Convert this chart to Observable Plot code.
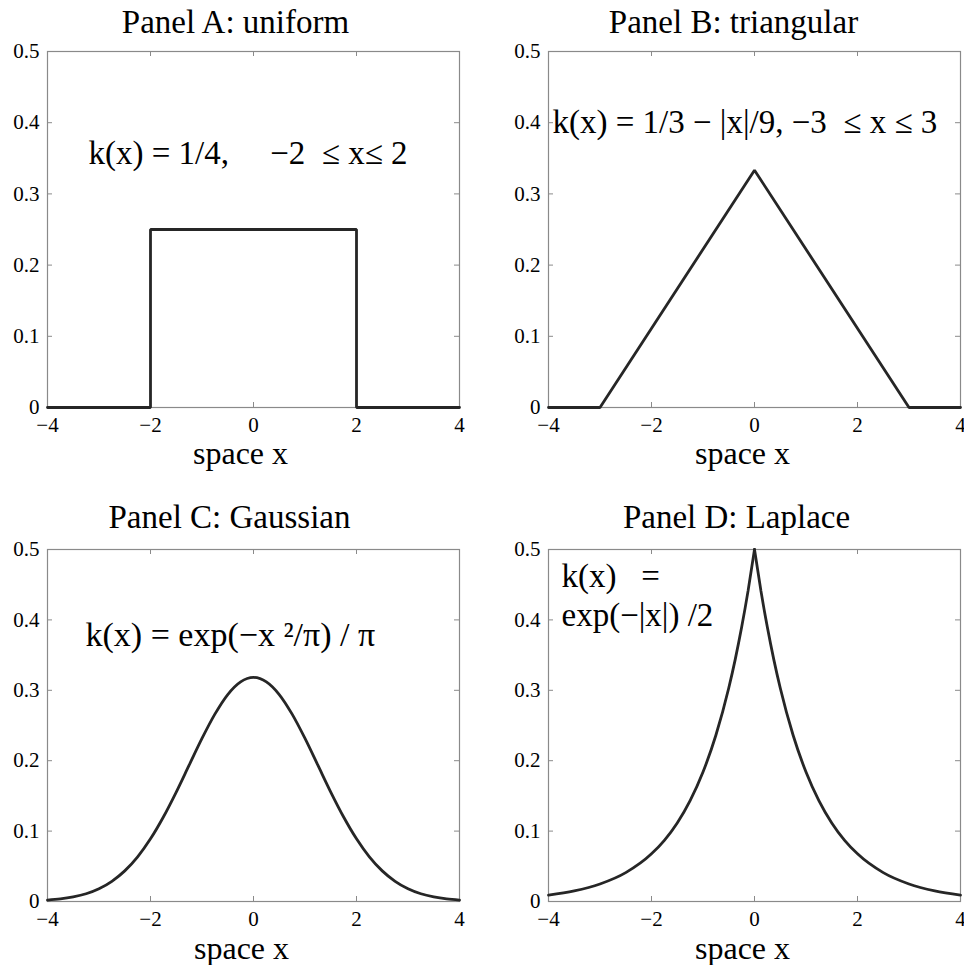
<!DOCTYPE html>
<html><head><meta charset="utf-8">
<script src="https://cdn.jsdelivr.net/npm/d3@7"></script>
<script src="https://cdn.jsdelivr.net/npm/@observablehq/plot@0.6"></script>
<style>
body{margin:0;background:#fff;}
#fig{position:relative;width:964px;height:965px;background:#fff;overflow:hidden;}
.panel{position:absolute;}
svg text{white-space:pre;}
</style></head><body><div id="fig"></div>
<script>
// ---- data ----
const xTicks = [-4, -2, 0, 2, 4];
const yTicks = [0, 0.1, 0.2, 0.3, 0.4, 0.5];
const titles = ["Panel A: uniform", "Panel B: triangular", "Panel C: Gaussian", "Panel D: Laplace"];
const xLabel = "space x";
const formulas = [
  "k(x) = 1/4,     \u22122  \u2264 x\u2264 2",
  "k(x) = 1/3 \u2212 |x|/9, \u22123  \u2264 x \u2264 3",
  "k(x) = exp(\u2212x \u00b2/\u03c0) / \u03c0",
  "k(x)   =\nexp(\u2212|x|) /2"
];
const uniformX = [-4, -2, -2, 2, 2, 4];
const uniformY = [0, 0, 0.25, 0.25, 0, 0];
const triX = [-4, -3, 0, 3, 4];
const triY = [0, 0, 0.3333, 0, 0];
const gaussX = [-4,-3.75,-3.5,-3.25,-3,-2.75,-2.5,-2.25,-2,-1.75,-1.5,-1.25,-1,-0.75,-0.5,-0.25,0,
                0.25,0.5,0.75,1,1.25,1.5,1.75,2,2.25,2.5,2.75,3,3.25,3.5,3.75,4];
const gaussY = [0.0020,0.0036,0.0065,0.0110,0.0181,0.0287,0.0435,0.0635,0.0891,0.1201,0.1555,0.1936,0.2316,0.2661,0.2940,0.3120,0.3183,
                0.3120,0.2940,0.2661,0.2316,0.1936,0.1555,0.1201,0.0891,0.0635,0.0435,0.0287,0.0181,0.0110,0.0065,0.0036,0.0020];
const lapX = [-4,-3.5,-3,-2.5,-2,-1.75,-1.5,-1.25,-1,-0.75,-0.5,-0.375,-0.25,-0.125,0,
              0.125,0.25,0.375,0.5,0.75,1,1.25,1.5,1.75,2,2.5,3,3.5,4];
const lapY = [0.0092,0.0151,0.0249,0.0410,0.0677,0.0869,0.1116,0.1433,0.1839,0.2362,0.3033,0.3436,0.3894,0.4412,0.5,
              0.4412,0.3894,0.3436,0.3033,0.2362,0.1839,0.1433,0.1116,0.0869,0.0677,0.0410,0.0249,0.0151,0.0092];

// ---- build tables ----
const rows = (xs, ys) => xs.map((x, i) => ({x, y: ys[i]}));
const lapRows = [
  ...lapX.map((x, i) => ({x, y: lapY[i], side: "L"})).filter(d => d.x <= 0),
  ...lapX.map((x, i) => ({x, y: lapY[i], side: "R"})).filter(d => d.x >= 0)
];
const series = [
  {data: rows(uniformX, uniformY), curve: "linear"},
  {data: rows(triX, triY), curve: "linear"},
  {data: rows(gaussX, gaussY), curve: "monotone-x"},
  {data: lapRows, curve: "monotone-x", z: "side"}
];

// ---- layout ----
const layout = [
  {left: 0,   top: 0,   w: 482, h: 480, mt: 51, mb: 73, ml: 47, mr: 23, tdx: -18, tdy: -19, ldx: -13, ldy: 56, fdx: 41, fdy: 112, ffs: 33},
  {left: 482, top: 0,   w: 482, h: 480, mt: 51, mb: 73, ml: 66, mr: 4,  tdx: -21, tdy: -19, ldx: -12, ldy: 56, fdx: 4,  fdy: 81,  ffs: 33},
  {left: 0,   top: 480, w: 482, h: 485, mt: 69, mb: 64, ml: 47, mr: 23, tdx: -24, tdy: -22, ldx: -12, ldy: 57, fdx: 38, fdy: 96,  ffs: 34},
  {left: 482, top: 480, w: 482, h: 485, mt: 69, mb: 64, ml: 66, mr: 4,  tdx: -18, tdy: -22, ldx: -12, ldy: 57, fdx: 13, fdy: 76,  ffs: 33}
];

const fig = document.getElementById("fig");
const font = "Liberation Serif, Times New Roman, serif";
const lineColor = "#262626";
const frameColor = "#8a8a8a";
const fmtX = d => (d < 0 ? "\u2212" + (-d) : String(d));
const fmtY = d => String(d);

layout.forEach((L, i) => {
  const boxH = L.h - L.mt - L.mb;
  const boxW = L.w - L.ml - L.mr;
  const s = series[i];
  const plot = Plot.plot({
    width: L.w, height: L.h,
    marginTop: L.mt, marginBottom: L.mb, marginLeft: L.ml, marginRight: L.mr,
    style: {fontFamily: font, fontSize: "21px", color: "#000", background: "transparent", overflow: "visible"},
    x: {domain: [-4, 4], axis: null},
    y: {domain: [0, 0.5], axis: null},
    marks: [
      Plot.ruleX(xTicks.slice(1, -1), {insetTop: boxH - 5, stroke: frameColor}),
      Plot.ruleX(xTicks.slice(1, -1), {insetBottom: boxH - 5, stroke: frameColor}),
      Plot.ruleY(yTicks.slice(1, -1), {insetRight: boxW - 5, stroke: frameColor}),
      Plot.ruleY(yTicks.slice(1, -1), {insetLeft: boxW - 5, stroke: frameColor}),
      Plot.frame({stroke: frameColor, strokeWidth: 1.2}),
      Plot.line(s.data, {x: "x", y: "y", z: s.z, curve: s.curve, stroke: lineColor, strokeWidth: 2.8, strokeLinejoin: "miter"}),
      Plot.text(xTicks, {x: d => d, text: fmtX, frameAnchor: "bottom", lineAnchor: "top", dy: 10, fontSize: 21, fontFamily: font, fill: "#000"}),
      Plot.text(yTicks, {y: d => d, text: fmtY, frameAnchor: "left", textAnchor: "end", dx: -8, fontSize: 21, fontFamily: font, fill: "#000"}),
      Plot.text([titles[i]], {frameAnchor: "top", lineAnchor: "bottom", dx: L.tdx, dy: L.tdy, fontSize: 33, fontFamily: font, fill: "#000"}),
      Plot.text([xLabel], {frameAnchor: "bottom", lineAnchor: "bottom", dx: L.ldx, dy: L.ldy, fontSize: 32, fontFamily: font, fill: "#000"}),
      Plot.text([formulas[i]], {frameAnchor: "top-left", textAnchor: "start", lineAnchor: "bottom", dx: L.fdx, dy: L.fdy, fontSize: L.ffs, fontFamily: font, lineHeight: 1.17, fill: "#000"})
    ]
  });
  plot.classList.add("panel");
  plot.style.left = L.left + "px";
  plot.style.top = L.top + "px";
  fig.appendChild(plot);
});
</script>
</body></html>
